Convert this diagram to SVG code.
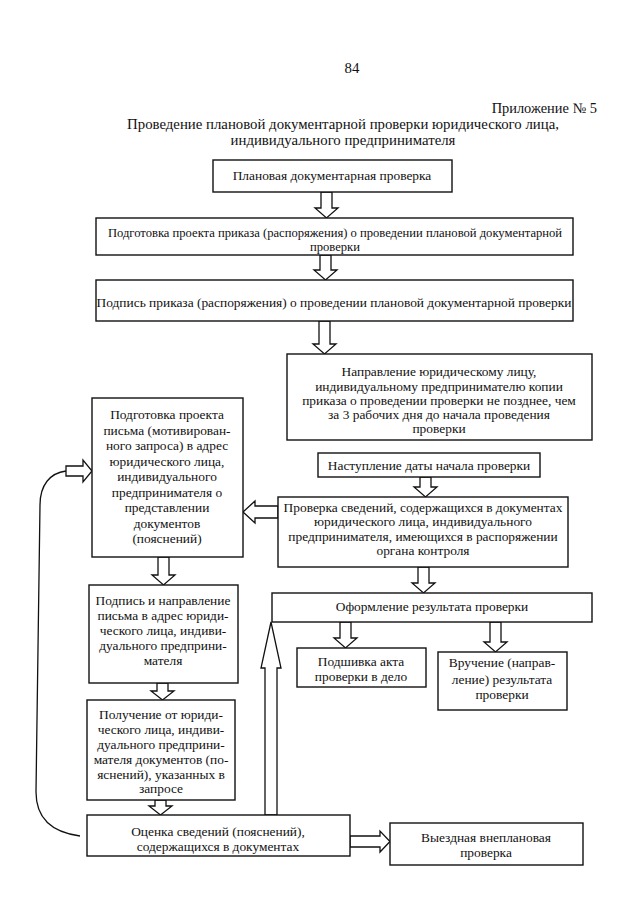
<svg xmlns="http://www.w3.org/2000/svg" width="640" height="905" viewBox="0 0 640 905">
<style>
.bg{fill:#ffffff}
.box{fill:#ffffff;stroke:#111111;stroke-width:1.4}
.arr{fill:#ffffff;stroke:#111111;stroke-width:1.3;stroke-linejoin:miter}
.ln{fill:none;stroke:#111111;stroke-width:1.3}
text{font-family:"Liberation Serif","Times New Roman",serif;fill:#111111}
.t{font-size:13.4px;text-anchor:middle}
.s{font-size:12.6px}
.h{font-size:14.8px}
</style>
<rect class="bg" x="0" y="0" width="640" height="905"/>
<g id="header">
<text class="h" x="352" y="73" text-anchor="middle">84</text>
<text x="597" y="113" text-anchor="end" font-size="14.4">Приложение № 5</text>
<text class="h" x="343" y="129" text-anchor="middle">Проведение плановой документарной проверки юридического лица,</text>
<text class="h" x="343" y="145" text-anchor="middle">индивидуального предпринимателя</text>
</g>
<g id="connectors">
<polygon class="arr" points="321,192 332,192 332,208 338,208 326.5,218 315,208 321,208"/>
<polygon class="arr" points="320,255 331,255 331,270 337,270 325.5,280 314,270 320,270"/>
<polygon class="arr" points="319,321 330,321 330,344 336,344 324.5,354 313,344 319,344"/>
<polygon class="arr" points="420,477 431,477 431,487 437,487 425.5,497 414,487 420,487"/>
<polygon class="arr" points="418,567 429,567 429,583 435,583 423.5,593 412,583 418,583"/>
<polygon class="arr" points="340,622 351,622 351,638 357,638 345.5,648 334,638 340,638"/>
<polygon class="arr" points="490,622 501,622 501,642 507,642 495.5,652 484,642 490,642"/>
<polygon class="arr" points="278,506 255,506 255,501 243,512 255,523 255,518 278,518"/>
<polygon class="arr" points="158,557 169,557 169,575 175,575 163.5,585 152,575 158,575"/>
<polygon class="arr" points="157,683 168,683 168,691 174,691 162.5,700 151,691 157,691"/>
<polygon class="arr" points="155,800 166,800 166,806 172,806 160.5,815 149,806 155,806"/>
<polygon class="arr" points="350,836 380,836 380,831 390,841.5 380,852 380,847 350,847"/>
<polygon class="arr" points="265,815 265,668 261,668 271,622 281,668 277,668 277,815"/>
<path class="ln" d="M 80 836 C 50 832, 36 816, 36 792 L 40 505 C 40 485, 50 473, 66 471"/>
<polygon class="arr" points="66,466 83,466 83,460 92,471 83,482 83,476 66,476"/>
</g>
<g id="n1">
<rect class="box" x="213" y="160" width="239" height="32"/>
<text class="t" x="332" y="180">Плановая документарная проверка</text>
</g>
<g id="n2">
<rect class="box" x="96" y="218" width="477" height="37"/>
<text class="t s" x="335" y="237">Подготовка проекта приказа (распоряжения) о проведении плановой документарной</text>
<text class="t s" x="335" y="251">проверки</text>
</g>
<g id="n3">
<rect class="box" x="96" y="280" width="477" height="41"/>
<text class="t" x="334" y="307">Подпись приказа (распоряжения) о проведении плановой документарной проверки</text>
</g>
<g id="n4">
<rect class="box" x="287" y="354" width="305" height="86"/>
<text class="t" x="439" y="376">Направление юридическому лицу,</text>
<text class="t" x="439" y="391">индивидуальному предпринимателю копии</text>
<text class="t" x="439" y="405">приказа о проведении проверки не позднее, чем</text>
<text class="t" x="439" y="419">за 3 рабочих дня до начала проведения</text>
<text class="t" x="439" y="433">проверки</text>
</g>
<g id="n5">
<rect class="box" x="318" y="453" width="222" height="24"/>
<text class="t" x="429" y="470">Наступление даты начала проверки</text>
</g>
<g id="n6">
<rect class="box" x="278" y="497" width="290" height="70"/>
<text class="t" x="423" y="512">Проверка сведений, содержащихся в документах</text>
<text class="t" x="423" y="526">юридического лица, индивидуального</text>
<text class="t" x="423" y="541">предпринимателя, имеющихся в распоряжении</text>
<text class="t" x="423" y="555">органа контроля</text>
</g>
<g id="n7">
<rect class="box" x="272" y="593" width="320" height="29"/>
<text class="t" x="432" y="611">Оформление результата проверки</text>
</g>
<g id="n8">
<rect class="box" x="297" y="648" width="129" height="39"/>
<text class="t" x="361" y="666">Подшивка акта</text>
<text class="t" x="361" y="681">проверки в дело</text>
</g>
<g id="n9">
<rect class="box" x="438" y="652" width="129" height="58"/>
<text class="t" x="502" y="667">Вручение (направ-</text>
<text class="t" x="502" y="684">ление) результата</text>
<text class="t" x="502" y="699">проверки</text>
</g>
<g id="n10">
<rect class="box" x="92" y="398" width="151" height="159"/>
<text class="t" x="167" y="419">Подготовка проекта</text>
<text class="t" x="167" y="435">письма (мотивирован-</text>
<text class="t" x="167" y="450">ного запроса) в адрес</text>
<text class="t" x="167" y="466">юридического лица,</text>
<text class="t" x="167" y="481">индивидуального</text>
<text class="t" x="167" y="497">предпринимателя о</text>
<text class="t" x="167" y="512">представлении</text>
<text class="t" x="167" y="528">документов</text>
<text class="t" x="167" y="543">(пояснений)</text>
</g>
<g id="n11">
<rect class="box" x="89" y="585" width="149" height="98"/>
<text class="t" x="163" y="605">Подпись и направление</text>
<text class="t" x="163" y="620">письма в адрес юриди-</text>
<text class="t" x="163" y="635">ческого лица, индиви-</text>
<text class="t" x="163" y="650">дуального предприни-</text>
<text class="t" x="163" y="665">мателя</text>
</g>
<g id="n12">
<rect class="box" x="87" y="700" width="148" height="100"/>
<text class="t" x="161" y="719">Получение от юриди-</text>
<text class="t" x="161" y="734">ческого лица, индиви-</text>
<text class="t" x="161" y="749">дуального предприни-</text>
<text class="t" x="161" y="764">мателя документов (по-</text>
<text class="t" x="161" y="779">яснений), указанных в</text>
<text class="t" x="161" y="793">запросе</text>
</g>
<g id="n13">
<rect class="box" x="87" y="815" width="263" height="41"/>
<text class="t" x="218" y="836">Оценка сведений (пояснений),</text>
<text class="t" x="218" y="851">содержащихся в документах</text>
</g>
<g id="n14">
<rect class="box" x="390" y="823" width="193" height="42"/>
<text class="t" x="486" y="842">Выездная внеплановая</text>
<text class="t" x="486" y="857">проверка</text>
</g>
</svg>
